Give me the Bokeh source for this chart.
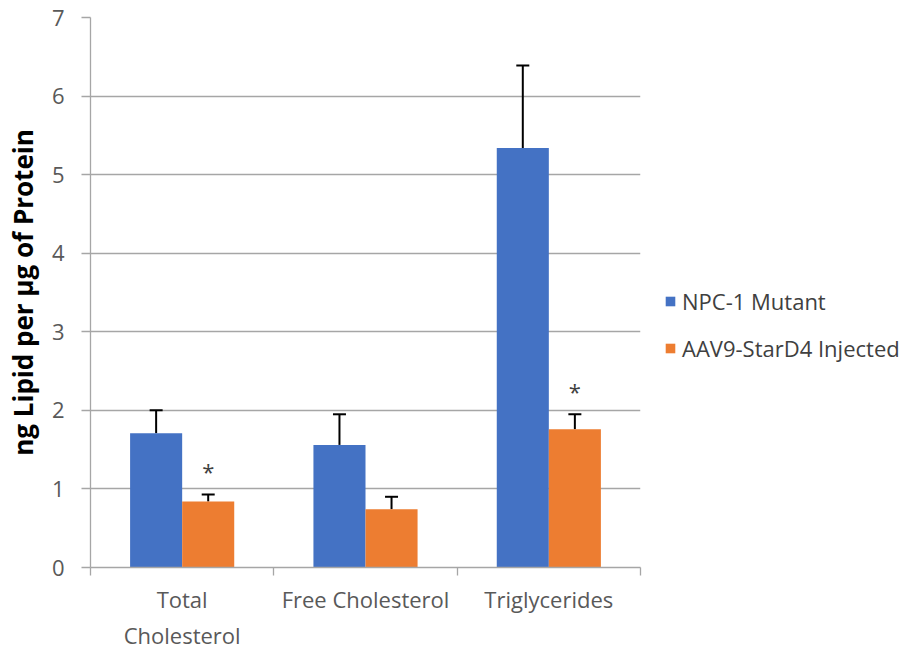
import numpy as np
from bokeh.plotting import figure
from bokeh.models import (ColumnDataSource, Range1d, FixedTicker, Whisker, TeeHead,
                          Legend, LegendItem)
from bokeh.core.properties import value
from bokeh.embed import file_html
from bokeh.resources import INLINE

# ---- data ----
categories = ["Total\nCholesterol", "Free Cholesterol", "Triglycerides"]
series_names = ["NPC-1 Mutant", "AAV9-StarD4 Injected"]
npc_values = [1.71, 1.56, 5.34]
npc_errors = [0.29, 0.39, 1.05]
aav_values = [0.84, 0.74, 1.76]
aav_errors = [0.09, 0.16, 0.19]
significant = [True, False, True]   # '*' marks on the injected series
y_ticks = [0, 1, 2, 3, 4, 5, 6, 7]

BLUE = "#4472C4"
ORANGE = "#ED7D31"
GRID = "#A6A6A6"
LABEL = "#595959"
FONT = "Open Sans"

n = len(categories)
centers = np.arange(n) + 0.5
bar_w = 0.284

p = figure(width=914, height=643, output_backend="svg", toolbar_location=None,
           x_range=Range1d(0, n), y_range=Range1d(0, 7),
           frame_width=550, frame_height=550,
           min_border_left=90, min_border_right=274, min_border_top=17, min_border_bottom=76)
p.outline_line_color = None
p.background_fill_color = "white"
p.border_fill_color = "white"

src_npc = ColumnDataSource(dict(x=centers - bar_w / 2, top=npc_values,
                                lower=npc_values,
                                upper=np.array(npc_values) + np.array(npc_errors)))
src_aav = ColumnDataSource(dict(x=centers + bar_w / 2, top=aav_values,
                                lower=aav_values,
                                upper=np.array(aav_values) + np.array(aav_errors)))

r_npc = p.vbar(x="x", top="top", bottom=0, width=bar_w, source=src_npc,
               fill_color=BLUE, line_color=None)
r_aav = p.vbar(x="x", top="top", bottom=0, width=bar_w, source=src_aav,
               fill_color=ORANGE, line_color=None)

for src in (src_npc, src_aav):
    w = Whisker(source=src, base="x", lower="lower", upper="upper", dimension="height",
                line_color="black", line_width=2,
                upper_head=TeeHead(size=13, line_color="black", line_width=2),
                lower_head=None)
    p.add_layout(w)

# significance stars
star_x = [centers[i] + bar_w / 2 for i in range(n) if significant[i]]
star_y = [aav_values[i] + aav_errors[i] + 0.3 for i in range(n) if significant[i]]
p.text(x=star_x, y=star_y, text=["*"] * len(star_x), text_align="center",
       text_baseline="middle", text_font=value(FONT), text_font_size="22px",
       text_color="#404040")

# axes
p.xgrid.grid_line_color = None
p.ygrid.grid_line_color = GRID
p.ygrid.grid_line_width = 1.3
p.ygrid.ticker = FixedTicker(ticks=y_ticks)

p.yaxis.ticker = FixedTicker(ticks=y_ticks)
p.yaxis.axis_line_color = GRID
p.yaxis.axis_line_width = 1.3
p.yaxis.major_tick_line_color = GRID
p.yaxis.major_tick_line_width = 1.3
p.yaxis.major_tick_out = 9
p.yaxis.major_tick_in = 0
p.yaxis.minor_tick_line_color = None
p.yaxis.major_label_text_font = FONT
p.yaxis.major_label_text_font_size = "22px"
p.yaxis.major_label_text_color = LABEL
p.yaxis.major_label_standoff = 17
p.yaxis.axis_label = "ng Lipid per µg of Protein"
p.yaxis.axis_label_text_font = FONT
p.yaxis.axis_label_text_font_style = "bold"
p.yaxis.axis_label_text_font_size = "26px"
p.yaxis.axis_label_text_color = "black"
p.yaxis.axis_label_standoff = 8

p.xaxis.ticker = FixedTicker(ticks=list(centers), minor_ticks=list(np.arange(n + 1)))
p.xaxis.major_label_overrides = {float(c): lab for c, lab in zip(centers, categories)}
p.xaxis.axis_line_color = GRID
p.xaxis.axis_line_width = 1.3
p.xaxis.major_tick_line_color = None
p.xaxis.major_tick_out = 8
p.xaxis.major_tick_in = 0
p.xaxis.minor_tick_line_color = GRID
p.xaxis.minor_tick_line_width = 1.3
p.xaxis.minor_tick_out = 8
p.xaxis.minor_tick_in = 0
p.xaxis.major_label_text_font = FONT
p.xaxis.major_label_text_font_size = "22px"
p.xaxis.major_label_text_color = LABEL
p.xaxis.major_label_standoff = 8

legend = Legend(items=[LegendItem(label=series_names[0], renderers=[r_npc]),
                       LegendItem(label=series_names[1], renderers=[r_aav])],
                location=(24, 204), orientation="vertical",
                glyph_width=12, glyph_height=12, label_standoff=6,
                label_height=24, spacing=17, padding=0, margin=0,
                border_line_color=None, background_fill_alpha=0,
                label_text_font=FONT, label_text_font_size="22px",
                label_text_color="#404040")
p.add_layout(legend, "right")

open("out.html", "w").write(file_html(p, INLINE))
